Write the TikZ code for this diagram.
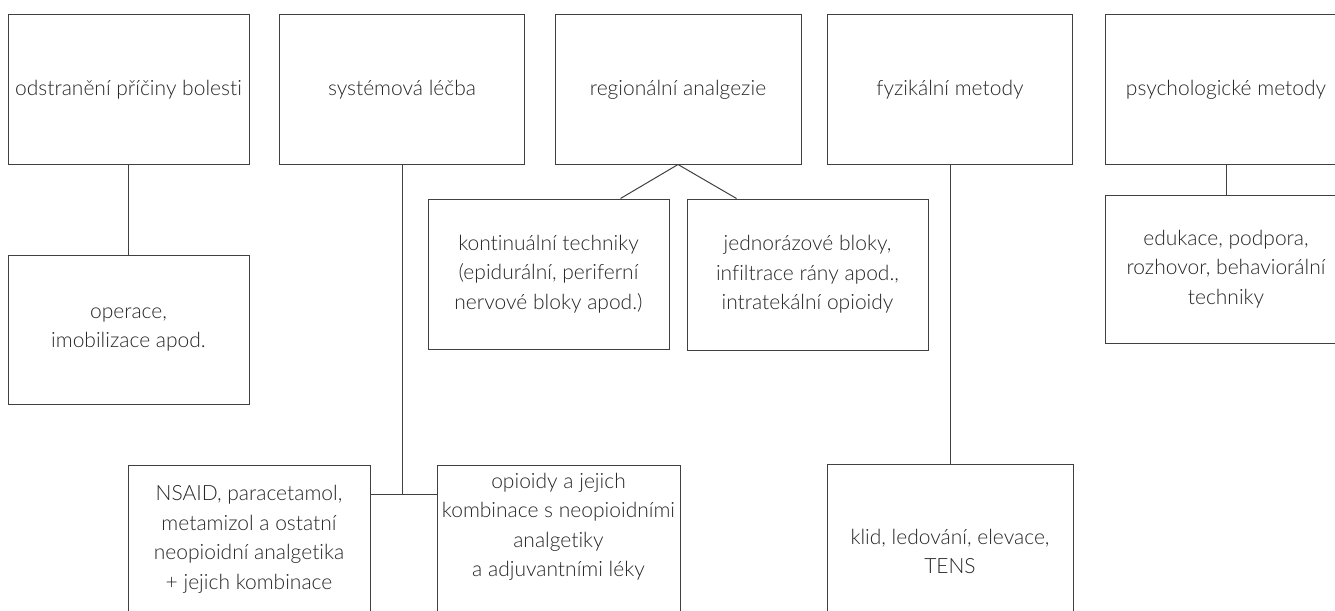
\documentclass[tikz,border=0pt]{standalone}
\usepackage{fontspec}
\setmainfont{Lato}[UprightFont=* Light, Ligatures=NoCommon]
\usepackage{tikz}

\begin{document}
\begin{tikzpicture} [x=1pt, y=-1pt, line width=1pt, color=black!75, font=\fontsize{21}{29.5}\selectfont,
		box/.style = {draw, rectangle, text=black!85, align=center, inner sep=0pt, minimum width=241pt, minimum height=149pt}]
			% Page frame
			\useasboundingbox (0,0) rectangle (1335,610);
			% Top row : the five kinds of treatment
			\node (odstr) [box] at (128.5,89.5) {odstranění příčiny bolesti};
			\node (system) [box, minimum width=245pt] at (402,89.5) {systémová léčba};
			\node (region) [box, minimum width=246pt] at (678,89.5) {regionální analgezie};
			\node (fyzik) [box, minimum width=245pt] at (950,89.5) {fyzikální metody};
			\node (psych) [box] at (1226,89.5) {psychologické metody};
			% Second level
			\node (operace) [box] at (128.5,329.5) {operace,\\imobilizace apod.};
			\node (kontin) [box, minimum height=150pt] at (548.5,274) {kontinuální techniky\\(epidurální, periferní\\nervové bloky apod.)};
			\node (jednor) [box, minimum height=151pt] at (807.5,274.5) {jednorázové bloky,\\infiltrace rány apod.,\\intratekální opioidy};
			\node (eduk) [box, minimum height=148pt] at (1226,269) {edukace, podpora,\\rozhovor, behaviorální\\techniky};
			% Bottom row (cut by the page edge)
			\node (nsaid) [box, minimum width=242pt] at (249,539.5) {NSAID, paracetamol,\\metamizol a ostatní\\neopioidní analgetika\\+ jejich kombinace};
			\node (opioid) [box, minimum width=243pt] at (558.5,539.5) {opioidy a jejich\\kombinace s neopioidními\\analgetiky\\a adjuvantními léky\\\mbox{}};
			\node (klid) [box, minimum width=246pt, minimum height=175pt] at (950,551.5) {klid, ledování, elevace,\\TENS};
			% Connections
			\coordinate (split) at (402,494);
			\draw (odstr) -- (operace);
			\draw (system) -- (split);
			\draw (nsaid.east |- split) -- (opioid.west |- split);
			\draw ([xshift=-49pt]kontin.north east) -- (region.south) -- ([xshift=50pt]jednor.north west);
			\draw (fyzik) -- (klid);
			\draw (psych) -- (eduk);
		\end{tikzpicture}
\end{document}
